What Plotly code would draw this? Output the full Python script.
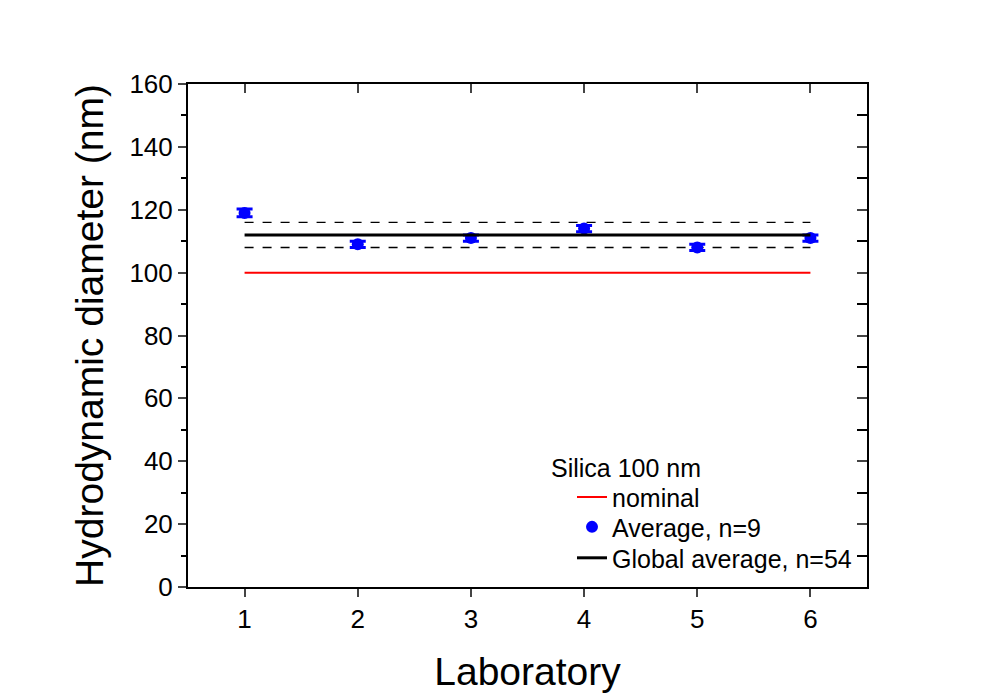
import plotly.graph_objects as go

labs = [1, 2, 3, 4, 5, 6]
avg = [119, 109, 111, 114, 108, 111]
avg_err = [1.2, 1.0, 1.0, 1.0, 1.0, 1.0]
line_x = [1, 6]
nominal = 100
global_avg = 112
global_upper = 116
global_lower = 108
x_ticks = [1, 2, 3, 4, 5, 6]
y_ticks = [0, 20, 40, 60, 80, 100, 120, 140, 160]

FONT = "Liberation Sans, Arial, sans-serif"

fig = go.Figure()
fig.add_trace(go.Scatter(x=line_x, y=[global_upper] * 2, mode="lines",
                         line=dict(color="black", width=1.3, dash="dash"), showlegend=False))
fig.add_trace(go.Scatter(x=line_x, y=[global_lower] * 2, mode="lines",
                         line=dict(color="black", width=1.3, dash="dash"), showlegend=False))
fig.add_trace(go.Scatter(x=line_x, y=[nominal] * 2, mode="lines", name="nominal",
                         line=dict(color="red", width=2), legend="legend"))
fig.add_trace(go.Scatter(x=labs, y=avg, mode="markers", name="Average, n=9",
                         marker=dict(color="blue", size=12), legend="legend2",
                         error_y=dict(type="data", array=avg_err, color="blue", thickness=3, width=8)))
fig.add_trace(go.Scatter(x=line_x, y=[global_avg] * 2, mode="lines", name="Global average, n=54",
                         line=dict(color="black", width=3), legend="legend3"))
# invisible trace anchoring the mirrored inward-tick axes
fig.add_trace(go.Scatter(x=line_x, y=[nominal] * 2, xaxis="x2", yaxis="y2", mode="lines",
                         line=dict(width=0), showlegend=False, hoverinfo="skip"))

PLOT_L, PLOT_W, PLOT_B, PLOT_H = 188, 679, 587, 504


def px_x(x):
    return (x - PLOT_L) / PLOT_W


def px_y(y):
    return (PLOT_B - y) / PLOT_H


def leg(yc):
    return dict(x=px_x(572), y=px_y(yc), xanchor="left", yanchor="middle",
                bgcolor="rgba(0,0,0,0)", font=dict(size=25), tracegroupgap=0)


fig.update_layout(
    width=989, height=693,
    paper_bgcolor="white", plot_bgcolor="white",
    margin=dict(l=180, r=130, t=76, b=114, autoexpand=False),
    font=dict(family=FONT, color="black", size=25),
    xaxis=dict(range=[0.5, 6.5], tickvals=x_ticks, ticks="outside", ticklen=8, tickwidth=2,
               showline=True, linecolor="black", linewidth=2, mirror=True, showgrid=False,
               zeroline=False, tickfont=dict(size=26),
               title=dict(text="Laboratory", font=dict(size=39), standoff=24)),
    yaxis=dict(range=[0, 160], tickvals=y_ticks, ticks="outside", ticklen=8, tickwidth=2,
               showline=True, linecolor="black", linewidth=2, mirror=True, showgrid=False,
               zeroline=False, tickfont=dict(size=26),
               minor=dict(dtick=10, tick0=0, ticks="outside", ticklen=5, tickwidth=2, tickcolor="black"),
               title=dict(text="Hydrodynamic diameter (nm)", font=dict(size=39), standoff=14)),
    xaxis2=dict(range=[0.5, 6.5], tickvals=x_ticks, overlaying="x", side="top", ticks="inside",
                ticklen=9, tickwidth=2, showticklabels=False, showgrid=False, zeroline=False,
                showline=False),
    yaxis2=dict(range=[0, 160], dtick=20, tick0=0, overlaying="y", side="right", ticks="inside",
                ticklen=10, tickwidth=2, showticklabels=False, showgrid=False, zeroline=False,
                showline=False,
                minor=dict(dtick=10, tick0=0, ticks="inside", ticklen=10, tickwidth=2, tickcolor="black")),
    legend=leg(497),
    legend2=leg(527),
    legend3=leg(558),
    annotations=[dict(text="Silica 100 nm", xref="paper", yref="paper", x=px_x(549),
                      y=px_y(468), xanchor="left", yanchor="middle", showarrow=False,
                      font=dict(size=25))],
)

fig.write_html("out.html")
